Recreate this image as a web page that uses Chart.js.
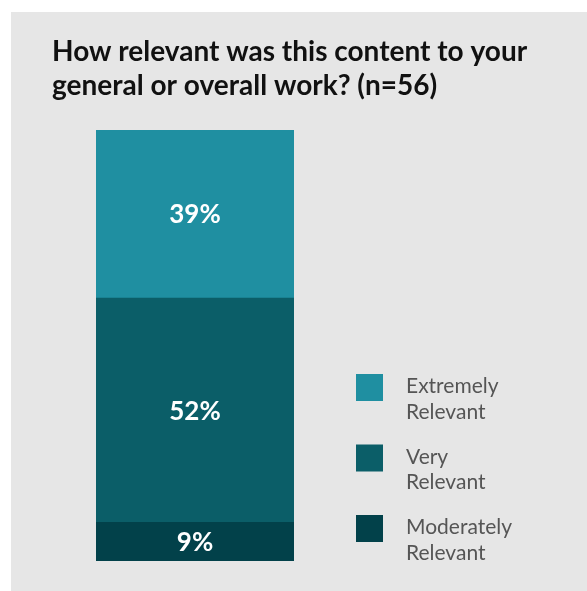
<!DOCTYPE html>
<html>
<head>
<meta charset="utf-8">
<script src="https://cdn.jsdelivr.net/npm/chart.js@4/dist/chart.umd.min.js"></script>
<style>
  html, body { margin: 0; padding: 0; background: #ffffff; }
  body { width: 587px; height: 591px; position: relative; overflow: hidden; }
  #panel { position: absolute; left: 11px; top: 12px; width: 576px; height: 579px; background: #e6e6e6; }
  #chart { display: block; }
</style>
</head>
<body>
<div id="panel"><canvas id="chart" width="576" height="579"></canvas></div>
<script>
// Survey question and response breakdown
const titleLines = ['How relevant was this content to your', 'general or overall work? (n=56)'];
const categories = ['Relevance'];
// Stacked from the bottom up
const seriesNames = [['Moderately', 'Relevant'], ['Very', 'Relevant'], ['Extremely', 'Relevant']];
const seriesValues = [9, 52, 39];
const seriesColors = ['#02414a', '#0b5e68', '#1f8fa1'];

const datasets = seriesNames.map((name, i) => ({
  label: name.join(' '),
  legendLines: name,
  data: [seriesValues[i]],
  backgroundColor: seriesColors[i],
  borderWidth: 0,
  barPercentage: 1,
  categoryPercentage: 1
}));

// Question text drawn at the top left of the panel
const titlePlugin = {
  id: 'questionTitle',
  afterDraw(chart) {
    const ctx = chart.ctx;
    ctx.save();
    ctx.fillStyle = '#111111';
    ctx.font = 'bold 28px Lato';
    ctx.textAlign = 'left';
    ctx.textBaseline = 'alphabetic';
    titleLines.forEach((line, i) => ctx.fillText(line, 41, 49 + i * 34));
    ctx.restore();
  }
};

// Percentage labels centred in each stacked segment
const valueLabels = {
  id: 'valueLabels',
  afterDatasetsDraw(chart) {
    const ctx = chart.ctx;
    ctx.save();
    ctx.fillStyle = '#ffffff';
    ctx.font = 'bold 26px Lato';
    ctx.textAlign = 'center';
    ctx.textBaseline = 'middle';
    chart.data.datasets.forEach((ds, i) => {
      chart.getDatasetMeta(i).data.forEach((bar, j) => {
        const p = bar.getProps(['x', 'y', 'base'], true);
        ctx.fillText(ds.data[j] + '%', p.x, (p.y + p.base) / 2 + 1);
      });
    });
    ctx.restore();
  }
};

// Legend on the right, top-most series first, two-line labels
const sideLegend = {
  id: 'sideLegend',
  afterDraw(chart) {
    const ctx = chart.ctx;
    const items = chart.data.datasets.slice().reverse();
    ctx.save();
    ctx.font = '21px Lato';
    ctx.textAlign = 'left';
    ctx.textBaseline = 'alphabetic';
    items.forEach((ds, i) => {
      const top = 362 + i * 70.5;
      ctx.fillStyle = ds.backgroundColor;
      ctx.fillRect(345, top, 27, 27);
      ctx.fillStyle = '#555555';
      ds.legendLines.forEach((line, k) => ctx.fillText(line, 395, top + 19 + k * 25.5));
    });
    ctx.restore();
  }
};

new Chart(document.getElementById('chart'), {
  type: 'bar',
  data: { labels: categories, datasets },
  options: {
    responsive: false,
    animation: false,
    layout: { padding: { left: 85, right: 293, top: 118, bottom: 30 } },
    plugins: {
      legend: { display: false },
      title: { display: false },
      tooltip: { enabled: false }
    },
    scales: {
      x: { stacked: true, display: false },
      y: { stacked: true, display: false, min: 0, max: 100 }
    }
  },
  plugins: [titlePlugin, valueLabels, sideLegend]
});
</script>
</body>
</html>
